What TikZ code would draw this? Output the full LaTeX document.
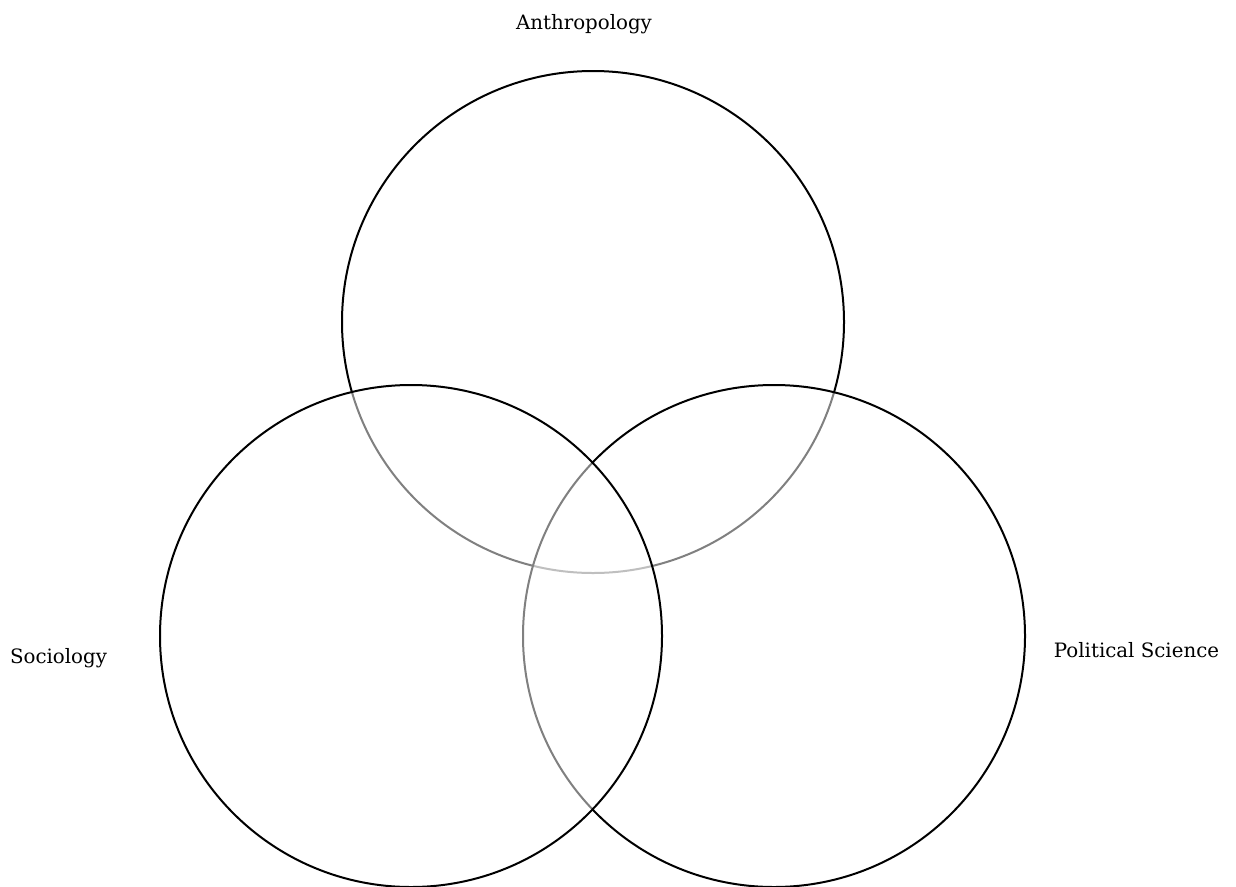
\documentclass[tikz,border=0pt]{standalone}
\usepackage{fontspec}
\setmainfont{DejaVu Serif}
\begin{document}
\begin{tikzpicture}[x=1pt,y=-1pt,
  venn/.style={circle,draw=black,line width=2pt,fill=white,fill opacity=0.5,minimum size=502pt,inner sep=0pt},
  lbl/.style={font=\fontsize{19.8}{23}\selectfont,text=black}]
\useasboundingbox (0,0) rectangle (1236,886);
\begin{scope}
\clip (0,0) rectangle (1236,886);
\node[venn] (anth) at (593,322) {};
\node[venn] (pol) at (774,636) {};
\node[venn] (soc) at (411,636) {};
\end{scope}
\node[lbl] (ta) at (584,24) {Anthropology};
\node[lbl] (ts) at (58.5,658) {Sociology};
\node[lbl] (tp) at (1136.5,650) {Political Science};
\end{tikzpicture}
\end{document}
